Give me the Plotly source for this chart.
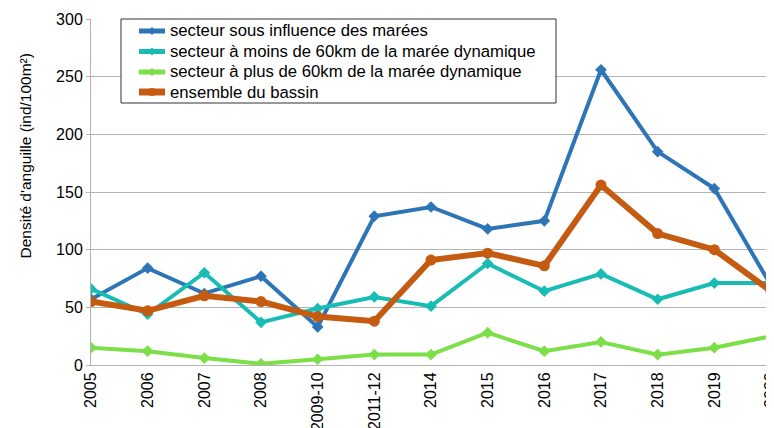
import plotly.graph_objects as go

categories = ["2005", "2006", "2007", "2008", "2009-10", "2011-12", "2014",
              "2015", "2016", "2017", "2018", "2019", "2020"]
sous_influence = [57, 84, 62, 77, 33, 129, 137, 118, 125, 256, 185, 153, 69]
moins_60km = [66, 44, 80, 37, 49, 59, 51, 88, 64, 79, 57, 71, 71]
plus_60km = [15, 12, 6, 1, 5, 9, 9, 28, 12, 20, 9, 15, 25]
ensemble = [55, 47, 60, 55, 42, 38, 91, 97, 86, 156, 114, 100, 64]

names = ["secteur sous influence des marées",
         "secteur à moins de 60km de la marée dynamique",
         "secteur à plus de 60km de la marée dynamique",
         "ensemble du bassin"]
y_title = "Densité d'anguille (ind/100m²)"

colors = ["#2e75b6", "#17bcb4", "#7ddf48", "#c55a11"]
widths = [4, 4, 4, 6]
symbols = ["diamond", "diamond", "diamond", "circle"]
msizes = [9, 9, 9, 11]

fig = go.Figure()
for vals, nm, col, w, sym, ms in zip(
        [sous_influence, moins_60km, plus_60km, ensemble],
        names, colors, widths, symbols, msizes):
    fig.add_trace(go.Scatter(
        x=categories, y=vals, name=nm, mode="lines+markers",
        line=dict(color=col, width=w),
        marker=dict(color=col, symbol=sym, size=ms),
        showlegend=False,
    ))

# page offset (body margin 8px) compensation
OFF = 8
PL, PT, PW, PH = 91 - OFF, 19 - OFF, 680, 346
FW, FH = 774, 428


def px(sx):
    return (sx - OFF - PL) / PW


def py(sy):
    return (PT + PH - (sy - OFF)) / PH


shapes = [dict(type="rect", xref="paper", yref="paper",
               x0=px(121), x1=px(556), y0=py(103), y1=py(19),
               line=dict(color="#333333", width=1), fillcolor="white",
               layer="above")]
annotations = []
rows = [31, 51.5, 72, 92]
for nm, col, w, sym, ry in zip(names, colors, widths, symbols, rows):
    shapes.append(dict(type="line", xref="paper", yref="paper",
                       x0=px(139), x1=px(165), y0=py(ry), y1=py(ry),
                       line=dict(color=col, width=w + 1), layer="above"))
    if sym == "circle":
        shapes.append(dict(type="circle", xref="paper", yref="paper",
                           xsizemode="pixel", ysizemode="pixel",
                           xanchor=px(152), yanchor=py(ry),
                           x0=-4, x1=4, y0=-4, y1=4,
                           line=dict(color=col, width=0), fillcolor=col,
                           layer="above"))
    else:
        shapes.append(dict(type="path", xref="paper", yref="paper",
                           xsizemode="pixel", ysizemode="pixel",
                           xanchor=px(152), yanchor=py(ry),
                           path="M -4 0 L 0 4 L 4 0 L 0 -4 Z",
                           line=dict(color=col, width=0), fillcolor=col,
                           layer="above"))
    annotations.append(dict(text=nm, xref="paper", yref="paper",
                            x=px(168), y=py(ry), xanchor="left",
                            yanchor="middle", showarrow=False,
                            font=dict(size=16.7)))

annotations.append(dict(
    text=y_title, xref="paper", yref="paper",
    x=px(24.5), y=py(156), xanchor="center", yanchor="middle",
    textangle=-90, showarrow=False, font=dict(size=15.5),
))

fig.update_layout(
    width=FW, height=FH,
    margin=dict(l=PL, r=FW - PL - PW, t=PT, b=FH - PT - PH),
    paper_bgcolor="white", plot_bgcolor="white",
    font=dict(family="Liberation Sans, Arial, sans-serif", size=16, color="black"),
    showlegend=False,
    xaxis=dict(
        type="category", tickangle=-90, showgrid=False, automargin=False,
        showline=True, linecolor="#b3b3b3", linewidth=1,
        ticks="", range=[0, 12], tickfont=dict(size=16),
    ),
    yaxis=dict(
        range=[0, 300], dtick=50, showgrid=True, gridcolor="#b3b3b3",
        gridwidth=1, showline=True, linecolor="#b3b3b3", zeroline=False,
        automargin=False, ticks="outside", ticklen=4, tickcolor="#b3b3b3",
        tickfont=dict(size=16),
    ),
    shapes=shapes,
    annotations=annotations,
)

fig.write_html("out.html")
